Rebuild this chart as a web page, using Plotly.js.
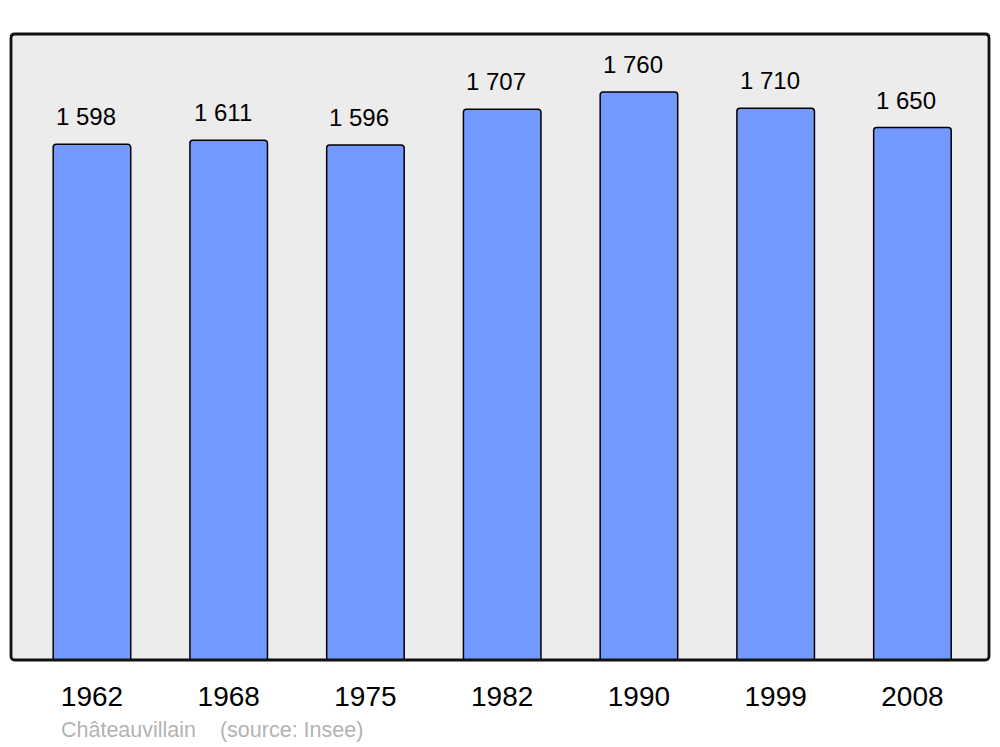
<!DOCTYPE html>
<html>
<head>
<meta charset="utf-8">
<script src="https://cdn.plot.ly/plotly-3.0.1.min.js"></script>
<style>html,body{margin:0;padding:0;background:#fff;}#chart{width:1000px;height:747px;}</style>
</head>
<body>
<div id="chart"></div>
<script>
const years = ["1962", "1968", "1975", "1982", "1990", "1999", "2008"];
const population = [1598, 1611, 1596, 1707, 1760, 1710, 1650];
const valueLabels = ["1 598", "1 611", "1 596", "1 707", "1 760", "1 710", "1 650"];
const footerText = "Châteauvillain    (source: Insee)";

const font = "Liberation Sans, Arial, sans-serif";

const trace = {
  type: "bar",
  x: years,
  y: population,
  width: 0.567,
  marker: {color: "#7399ff", line: {color: "#000", width: 1.5}, cornerradius: 3},
  hoverinfo: "skip"
};

const annotations = years.map((yr, i) => ({
  x: i, y: population[i], xref: "x", yref: "y",
  text: valueLabels[i], showarrow: false,
  xanchor: "center", yanchor: "bottom", xshift: -6, yshift: 12,
  font: {family: font, size: 24, color: "#000"}
}));
annotations.push({
  xref: "paper", yref: "paper", x: 48 / 978, y: -(730 - 660) / 626,
  xanchor: "left", yanchor: "middle", text: footerText, showarrow: false,
  font: {family: font, size: 21.5, color: "#b3b3b3"}
});

// rounded frame (paper units)
const rx = 4 / 978, ry = 4 / 626;
const framePath =
  `M ${rx} 0 L ${1 - rx} 0 Q 1 0 1 ${ry} L 1 ${1 - ry} Q 1 1 ${1 - rx} 1 ` +
  `L ${rx} 1 Q 0 1 0 ${1 - ry} L 0 ${ry} Q 0 0 ${rx} 0 Z`;

const layout = {
  width: 1000, height: 747,
  margin: {l: 11, r: 11, t: 34, b: 87},
  paper_bgcolor: "#ffffff",
  plot_bgcolor: "#ececec",
  showlegend: false,
  xaxis: {
    type: "category", range: [-0.592, 6.56],
    showgrid: false, zeroline: false, showline: false, ticks: "",
    tickfont: {family: font, size: 28, color: "#000"},
    ticklabelstandoff: 17
  },
  yaxis: {
    range: [0, 1940], showgrid: false, zeroline: false, showline: false,
    showticklabels: false, ticks: ""
  },
  shapes: [{
    type: "path", xref: "paper", yref: "paper", path: framePath,
    line: {color: "#111", width: 2.8}, layer: "above"
  }],
  annotations: annotations
};

Plotly.newPlot("chart", [trace], layout, {staticPlot: true, displayModeBar: false});
</script>
</body>
</html>
